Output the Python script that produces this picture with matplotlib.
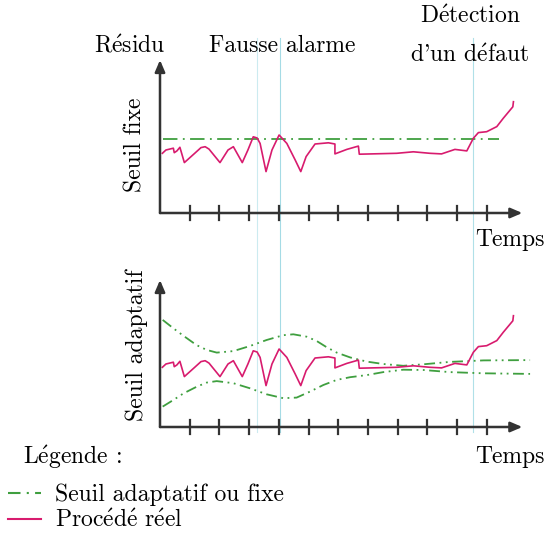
import matplotlib
matplotlib.use("Agg")
import matplotlib.pyplot as plt
from matplotlib.lines import Line2D

plt.rcParams['font.family'] = ['cmr10', 'DejaVu Serif']
plt.rcParams['mathtext.fontset'] = 'cm'
plt.rcParams['axes.formatter.use_mathtext'] = True

# procede reel (temps, residu)
sig_t = [0.08, 0.2, 0.45, 0.48, 0.57, 0.67, 0.82, 1.18, 1.38, 1.52, 1.65, 2.02, 2.29, 2.47,
         2.77, 2.96, 3.14, 3.27, 3.37, 3.57, 3.77, 4.01, 4.27, 4.55, 4.74, 4.92, 5.22, 5.67,
         5.89, 5.89, 6.29, 6.68, 6.71, 7.97, 8.53, 9.09, 9.48, 9.93, 10.33, 10.55, 10.72,
         11.0, 11.34, 11.56, 11.88, 11.9]
sig_v = [1.99, 2.1, 2.16, 2.01, 2.07, 2.19, 1.68, 2.0, 2.18, 2.21, 2.13, 1.68, 2.1, 2.21,
         1.68, 2.1, 2.54, 2.5, 2.32, 1.38, 2.1, 2.6, 2.32, 1.77, 1.38, 1.88, 2.3, 2.34,
         2.3, 1.97, 2.12, 2.23, 1.96, 1.99, 2.04, 1.99, 1.97, 2.12, 2.07, 2.49, 2.68,
         2.71, 2.88, 3.16, 3.54, 3.71]

# seuil fixe
fixe_t = [0.1, 11.42]
fixe_v = [2.47, 2.47]

# seuil adaptatif (enveloppes haute et basse)
env_t = [0.09, 0.45, 0.79, 1.23, 1.57, 1.91, 2.47, 3.03, 3.59, 4.15, 4.49, 4.94, 5.27,
         5.61, 5.95, 6.4, 6.96, 7.52, 8.19, 8.87, 9.76, 10.89, 12.46]
haut_v = [3.57, 3.29, 3.04, 2.73, 2.57, 2.48, 2.53, 2.70, 2.9, 3.06, 3.09, 3.01, 2.87,
          2.66, 2.48, 2.32, 2.18, 2.1, 2.04, 2.09, 2.17, 2.22, 2.23]
bas_t = [0.09, 0.45, 0.79, 1.23, 1.57, 1.91, 2.47, 3.03, 3.59, 4.15, 4.6, 5.05, 5.5,
         5.95, 6.4, 6.96, 7.52, 8.19, 8.87, 9.76, 10.89, 12.46]
bas_v = [0.68, 0.9, 1.12, 1.34, 1.48, 1.53, 1.46, 1.29, 1.09, 0.96, 0.98, 1.18, 1.4,
         1.57, 1.66, 1.73, 1.83, 1.91, 1.9, 1.83, 1.79, 1.77]

ticks = list(range(1, 12))
events = [3.25, 4.05, 10.55]
event_alpha = [0.45, 0.8, 0.7]

W, H = 545, 539
fig = plt.figure(figsize=(W / 100, H / 100), dpi=100)

magenta = '#d81b6e'
green = '#3f9f3f'
axc = '#333333'
unit_x = 29.7
unit_y = 30.0
xmax = 12.2


def px(x, y):
    return x / W, 1 - y / H


def tx(s):
    # cmr10 n'a pas de e accent : on passe par mathtext
    return s.replace('é', r'$\acute{\mathrm{e}}$')


def panel(y_axis, ytop):
    ax = fig.add_axes([160 / W, (H - y_axis) / H, xmax * unit_x / W, ytop * unit_y / H])
    ax.set_xlim(0, xmax)
    ax.set_ylim(0, ytop)
    ax.axis('off')
    arrow = dict(arrowstyle='-|>,head_length=0.7,head_width=0.3', color=axc, lw=1.8,
                 shrinkA=0, shrinkB=0)
    ax.annotate('', xy=(xmax, 0), xytext=(0, 0), arrowprops=arrow, annotation_clip=False)
    ax.annotate('', xy=(0, ytop), xytext=(0, 0), arrowprops=arrow, annotation_clip=False)
    for t in ticks:
        ax.plot([t, t], [-0.23, 0.23], color=axc, lw=1.6, clip_on=False)
    return ax


ax1 = panel(213, 5.1)
ax1.plot(fixe_t, fixe_v, color=green, lw=1.3, dashes=(8, 3, 1, 3), clip_on=False)
ax1.plot(sig_t, sig_v, color=magenta, lw=1.2, clip_on=False)
for t, a in zip(events, event_alpha):
    ax1.plot([t, t], [5.83, -7.3], color='#8fd3df', lw=0.8, alpha=a, clip_on=False, zorder=0)

ax2 = panel(427, 4.9)
ax2.plot(env_t, haut_v, color=green, lw=1.3, dashes=(6, 2.5, 1, 2.5, 1, 2.5), clip_on=False)
ax2.plot(bas_t, bas_v, color=green, lw=1.3, dashes=(6, 2.5, 1, 2.5, 1, 2.5), clip_on=False)
ax2.plot(sig_t, sig_v, color=magenta, lw=1.2, clip_on=False)

fs = 17
fig.text(*px(130, 46), tx('Résidu'), fontsize=fs, ha='center', va='center')
fig.text(*px(282, 46), 'Fausse alarme', fontsize=fs, ha='center', va='center')
fig.text(*px(470, 17), tx('Détection'), fontsize=fs, ha='center', va='center')
fig.text(*px(470, 56), tx("d'un défaut"), fontsize=fs, ha='center', va='center')
fig.text(*px(135, 145), 'Seuil fixe', fontsize=fs, ha='center', va='center', rotation=90)
fig.text(*px(137, 345), 'Seuil adaptatif', fontsize=fs, ha='center', va='center', rotation=90)
fig.text(*px(510, 240), 'Temps', fontsize=fs, ha='center', va='center')
fig.text(*px(510, 457), 'Temps', fontsize=fs, ha='center', va='center')
fig.text(*px(72, 457), tx('Légende :'), fontsize=fs, ha='center', va='center')

handles = [Line2D([], [], color=green, lw=1.5, dashes=(6, 3, 1, 3)),
           Line2D([], [], color=magenta, lw=1.5)]
fig.legend(handles, ['Seuil adaptatif ou fixe', tx('Procédé réel')], loc='upper left',
           bbox_to_anchor=px(8, 484), frameon=False, fontsize=fs, handlelength=1.4,
           handletextpad=0.6, labelspacing=0.12, borderaxespad=0, borderpad=0)

fig.savefig('out.png', dpi=100)
